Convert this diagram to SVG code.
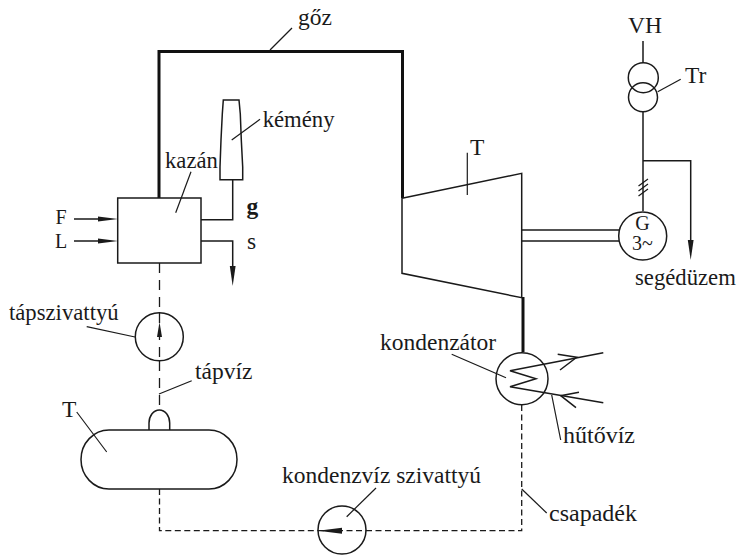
<svg xmlns="http://www.w3.org/2000/svg" width="739" height="555" viewBox="0 0 739 555">
<defs>
<style>
text{font-family:"Liberation Serif","Times New Roman",serif;font-size:23.500px;fill:#1a1a1a}
.m{font-size:22.700px}
.f{font-size:20px}
.s{fill:none;stroke:#1a1a1a;stroke-width:1.5}
.n{fill:none;stroke:#1a1a1a;stroke-width:1.2}
.t{fill:none;stroke:#111;stroke-width:3}
.d{fill:none;stroke:#1a1a1a;stroke-width:1.3;stroke-dasharray:10 7}
.d2{fill:none;stroke:#1a1a1a;stroke-width:1.3;stroke-dasharray:6 3.500}
.a{fill:#1a1a1a;stroke:none}
</style>
</defs>
<rect width="739" height="555" fill="#fff"/>
<g id="connectors">
<path class="t" d="M159 198V51.500H402.500V198"/>
<path class="t" d="M523 297V352"/>
<path class="s" d="M201 219.700H232.700V180"/>
<path class="s" d="M201 241H232.700V270"/>
<path class="a" d="M229.800 266H235.600L232.700 286Z"/>
<path class="s" d="M74 219H100M74 241H100"/>
<path class="a" d="M98 216.500L118 219L98 221.500ZM98 238.500L118 241L98 243.500Z"/>
<path class="d" d="M159.500 263V312"/>
<path class="d" d="M159.500 361V410"/>
<path class="d2" d="M159.500 489V530.700H318"/>
<path class="d2" d="M366 530.700H521.700V405"/>
<path class="s" d="M522 230H619M522 241H619"/>
<path class="s" d="M643 41V63M643 112V211"/>
<path class="s" d="M643 160.700H690.700V245"/>
<path class="a" d="M687.800 240H693.600L690.700 260Z"/>
<path class="n" d="M638.500 186L648 179M638.500 191L648 184M638.500 196L648 189"/>
<path class="s" d="M603.300 352.700L510 370.700L536 378.700L510 386.700L603.300 402.700"/>
<path class="s" d="M557.700 354.300L576.700 357.300L560 370M579 392.300L560.700 395.700L576 407.700"/>
<g id="leaders">
<path class="n" d="M270 50L292 28"/>
<path class="n" d="M260 119.300L231.700 140"/>
<path class="n" d="M191 171.700L175.700 212.700"/>
<path class="n" d="M86.700 326.700L135 337"/>
<path class="n" d="M191.700 380.700L159 394"/>
<path class="n" d="M76.700 412L106.700 452"/>
<path class="n" d="M376 488L346.700 516.700"/>
<path class="n" d="M521.700 489L546.700 513"/>
<path class="n" d="M451.700 354.300L506 377.700"/>
<path class="n" d="M551.700 395L560.700 440"/>
<path class="n" d="M680.700 79.300L657.700 91.700"/>
<path class="n" d="M467.300 152.700V195"/>
</g>
</g>
<g id="kazan"><rect class="s" x="117.700" y="198" width="83.300" height="65"/><text class="m" x="165" y="168">kazán</text></g>
<g id="kemeny"><path class="s" d="M223.300 100H239L240.300 114L241.300 140L242.700 167V179.700H220V167L221 140L222.300 114Z"/><text class="m" x="262.700" y="126.700">kémény</text></g>
<g id="labels-inputs"><text class="f" x="55.500" y="224">F</text><text class="f" x="55" y="247.500">L</text><text x="246.500" y="213.500" font-weight="bold">g</text><text x="247" y="249">s</text><text x="298" y="25">gőz</text></g>
<g id="tapszivattyu"><circle class="s" cx="159.300" cy="336.700" r="24"/><path class="a" d="M159.500 322L162 337H157Z"/><path class="d" d="M159.500 313V361"/><text class="m" x="9" y="320">tápszivattyú</text></g>
<g id="tapviz-label"><text x="195" y="379">tápvíz</text></g>
<g id="tartaly"><rect class="s" x="81" y="430" width="156" height="59" rx="28" ry="29.500"/><path class="s" d="M149 430V423A10.300 13 0 0 1 169.700 423V430"/><text x="62" y="416.700">T</text></g>
<g id="kondenzviz-szivattyu"><circle class="s" cx="342" cy="530" r="24"/><path class="a" d="M318 530.700L342 527.700V533.700Z"/><path class="d2" d="M318 530.700H366"/><text x="282" y="483">kondenzvíz szivattyú</text></g>
<g id="csapadek-label"><text x="549" y="520.700" style="font-size:24px">csapadék</text></g>
<g id="kondenzator"><circle class="s" cx="522" cy="378.700" r="26"/><text x="380" y="350">kondenzátor</text></g>
<g id="hutoviz-label"><text x="563" y="443" style="font-size:24px">hűtővíz</text></g>
<g id="turbina"><path class="s" d="M402 198.300L521.700 173.300V297.700L402 273.300Z"/><text x="470" y="155">T</text></g>
<g id="generator"><circle class="s" cx="642.700" cy="236" r="24"/><text class="f" x="642.500" y="230" text-anchor="middle">G</text><text class="f" x="632" y="250">3~</text></g>
<g id="transzformator"><circle class="s" cx="643.300" cy="77.700" r="15"/><circle class="s" cx="643" cy="97.300" r="14.500"/><text x="628" y="33">VH</text><text x="685" y="83">Tr</text></g>
<g id="segeduzem-label"><text class="m" x="635" y="285">segédüzem</text></g>
</svg>
